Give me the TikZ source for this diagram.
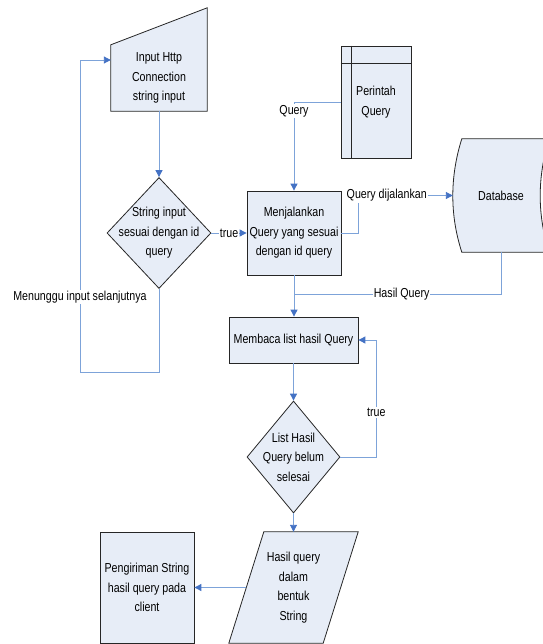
\documentclass[tikz,border=0pt]{standalone}
\usepackage{fontspec}
\setmainfont{Liberation Sans}[FakeStretch=0.82]
\usepackage{xcolor}
\usepackage{tikz}
\usetikzlibrary{shapes.geometric, arrows.meta, positioning, backgrounds}

\definecolor{isibiru}{RGB}{231,237,247}
\definecolor{garisbiru}{RGB}{125,163,217}
\definecolor{ujungbiru}{RGB}{68,114,196}

\begin{document}
\begin{tikzpicture}[
  x=1pt, y=-1pt,
  every node/.style={font=\fontsize{13}{19.5}\selectfont},
  flowbox/.style={rectangle, draw=black!85, fill=isibiru, line width=0.8pt, align=center, inner sep=2pt},
  keputusan/.style={diamond, draw=black!85, fill=isibiru, line width=0.8pt, inner sep=0pt},
  bentuk/.style={draw=black!85, fill=isibiru, line width=0.8pt},
  teks/.style={align=center, inner sep=0pt},
  ket/.style={fill=white, inner sep=1pt},
  panah/.style={draw=garisbiru, line width=0.9pt, -{Triangle[length=7pt, width=7pt, color=ujungbiru]}},
  garis/.style={draw=garisbiru, line width=0.9pt}
]
  \useasboundingbox (0,0) rectangle (542,644);

  % Input http (manual input)
  \node[teks, minimum width=96pt, minimum height=66pt] (input) at (159,78) {Input Http\\Connection\\string input};
  \begin{scope}[on background layer]
    \draw[bentuk] (input.south west) -- (input.north west) -- ([yshift=37pt]input.north east) -- (input.south east) -- cycle;
  \end{scope}

  % Cek id query
  \node[keputusan, minimum width=104pt, minimum height=111pt] (cek) at (159,233) {};
  \node[teks] (cek-teks) at (cek) {String input\\sesuai dengan id\\query};

  % Perintah query (internal storage)
  \node[flowbox, minimum width=70pt, minimum height=112pt] (perintah) at (376,102) {Perintah\\Query};
  \draw[bentuk, fill=none] ([xshift=11pt]perintah.north west) -- ([xshift=11pt]perintah.south west);
  \draw[bentuk, fill=none] ([yshift=-18pt]perintah.north west) -- ([yshift=-18pt]perintah.north east);

  % Menjalankan query
  \node[flowbox, minimum width=94pt, minimum height=84pt] (proses) at (294,233) {Menjalankan\\Query yang sesuai\\dengan id query};

  % Database (stored data)
  \node[teks, minimum width=96pt, minimum height=113pt] (db) at (501,195.5) {Database};
  \begin{scope}[on background layer]
    \draw[bentuk] ([xshift=9pt]db.north west) -- (db.north east)
      .. controls ([xshift=-12pt, yshift=-38pt]db.north east) and ([xshift=-12pt, yshift=37pt]db.south east) .. (db.south east)
      -- ([xshift=9pt]db.south west)
      .. controls ([xshift=-3pt, yshift=37pt]db.south west) and ([xshift=-3pt, yshift=-38pt]db.north west) .. ([xshift=9pt]db.north west) -- cycle;
  \end{scope}

  % Membaca list
  \node[flowbox, minimum width=129pt, minimum height=46pt] (baca) at (293.5,340) {Membaca list hasil Query};

  % List belum selesai
  \node[keputusan, minimum width=93pt, minimum height=112pt] (ulang) at (293.5,457) {};
  \node[teks] (ulang-teks) at (ulang) {List Hasil\\Query belum\\selesai};

  % Hasil string (data)
  \node[teks, minimum width=94pt, minimum height=111pt] (hasil) at (293.5,587.5) {Hasil query\\dalam\\bentuk\\String};
  \begin{scope}[on background layer]
    \draw[bentuk] ([xshift=17.5pt]hasil.north west) -- ([xshift=17.5pt]hasil.north east) -- ([xshift=-17.5pt]hasil.south east) -- ([xshift=-17.5pt]hasil.south west) -- cycle;
  \end{scope}

  % Pengiriman ke client
  \node[flowbox, minimum width=94pt, minimum height=111pt] (kirim) at (147,587.5) {Pengiriman String\\hasil query pada\\client};

  % Connectors
  \coordinate (kiri-bawah) at (80,372);
  \coordinate (kiri-atas) at (80,60);
  \coordinate (gabung) at (proses.south |- 0,294);

  \draw[panah] (input) -- (cek);
  \draw[panah] (cek) -- node[ket] (lbl-true1) {true} (proses);
  \draw[panah] (cek.south) |- (kiri-bawah) -- node[ket, pos=0.24] (lbl-tunggu) {Menunggu input selanjutnya} (kiri-atas) -- ([yshift=18pt]input.west);
  \draw[panah] (perintah.west) -| node[ket, pos=0.55] (lbl-query) {Query} (proses.north);
  \draw[panah] (proses.east) -- ++(17,0) |- node[ket, pos=0.65] (lbl-jalan) {Query dijalankan} (db.west);
  \draw[panah] (proses.south) -- (proses.south |- baca.north);
  \draw[garis] (db.south) |- node[ket, pos=0.74] (lbl-hasil) {Hasil Query} (gabung);
  \draw[panah] (baca) -- (ulang);
  \draw[panah] (ulang.east) -- ++(36,0) |- node[ket, pos=0.19] (lbl-true2) {true} (baca.east);
  \draw[panah] (ulang) -- (hasil);
  \draw[panah] (hasil.west) -- (kirim.east);
\end{tikzpicture}
\end{document}
